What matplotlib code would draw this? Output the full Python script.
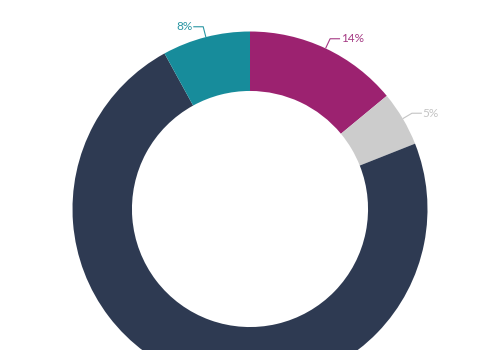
import matplotlib
matplotlib.use('Agg')
import matplotlib.pyplot as plt
import numpy as np

labels = ['14%', '5%', '73%', '8%']
values = [14, 5, 73, 8]
colors = ['#9c2270', '#cccccc', '#2e3a52', '#178c9b']
label_colors = ['#a53a84', '#c4c4c4', None, '#2a96a3']
show_label = [True, True, False, True]

plt.rcParams['font.family'] = ['Lato', 'DejaVu Sans']

fig = plt.figure(figsize=(5, 3.5), dpi=100)
ax = fig.add_axes([0, 0, 1, 1])

wedges, _ = ax.pie(values, colors=colors, startangle=90, counterclock=False,
                   radius=1.0, wedgeprops=dict(width=0.335, linewidth=0))

# leader lines with elbow
for w, lab, col, show in zip(wedges, labels, label_colors, show_label):
    if not show:
        continue
    ang = np.deg2rad((w.theta1 + w.theta2) / 2)
    x0, y0 = np.cos(ang), np.sin(ang)
    x1, y1 = 1.06 * x0, 1.06 * y0
    side = 1 if x0 > 0 else -1
    x2 = x1 + side * 0.056
    ax.plot([x0, x1, x2], [y0, y1, y1], color=col, lw=0.8, solid_capstyle='butt')
    ax.text(x2 + side * 0.004, y1, lab, color=col, fontsize=8.5,
            ha='left' if side > 0 else 'right', va='center')

ax.set_xlim(-250 / 177.5, 250 / 177.5)
ax.set_ylim((209 - 350) / 177.5, 209 / 177.5)
ax.set_aspect('equal')
ax.axis('off')

fig.savefig('out.png', dpi=100)
